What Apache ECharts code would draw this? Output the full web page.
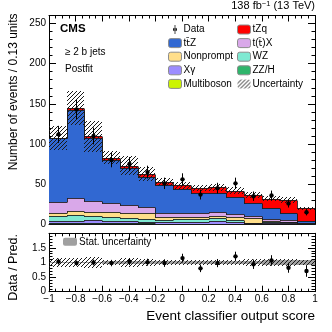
<!DOCTYPE html>
<html>
<head>
<meta charset="utf-8">
<script src="https://cdn.jsdelivr.net/npm/echarts@6/dist/echarts.min.js"></script>
<style>
html, body { margin: 0; padding: 0; background: #fff; }
#chart { width: 332px; height: 332px; }
</style>
</head>
<body>
<div id="chart"></div>
<script>
// bin edges of the classifier score
var binEdges = [-1, -0.8667, -0.7333, -0.6, -0.4667, -0.3333, -0.2, -0.0667, 0.0667, 0.2, 0.3333, 0.4667, 0.6, 0.7333, 0.8667, 1];

// postfit yields per bin (stacked bottom -> top)
var multiboson = [0.3, 0.3, 0.3, 0.3, 0.3, 0.3, 0.2, 0.2, 0.2, 0.2, 0.2, 0.1, 0.1, 0.1, 0.1];
var zzh        = [0.7, 0.7, 0.7, 0.7, 0.7, 0.7, 0.3, 0.3, 0.3, 0.3, 0.3, 0.2, 0.2, 0.2, 0.1];
var xgamma     = [2.5, 3, 4, 3, 3, 2, 2, 2, 2.5, 4, 2.5, 0.7, 1.2, 1.7, 0.3];
var wz         = [6.5, 7, 5.5, 5, 4, 3.5, 2.5, 3.5, 3.5, 3, 2, 0.5, 1, 0.5, 0.2];
var nonprompt  = [4.5, 5.5, 5.3, 6, 6.5, 7.2, 3.7, 2.7, 3, 2.9, 3.7, 6, 2.1, 0.8, 0.5];
var ttx        = [13, 16, 13.2, 11, 9, 7.8, 4.8, 5, 5.1, 5, 4.2, 2.9, 1.7, 2.1, 0.8];
var ttz        = [79.5, 109.5, 78, 53.5, 46.5, 38, 35, 30.3, 24.4, 23.6, 21.1, 15.6, 13.7, 8.6, 1.5];
var tzq        = [1, 2.5, 2.5, 3.5, 3, 3.5, 4.5, 4.7, 6, 7, 8, 10.6, 12, 16.4, 16.5];
var totalUnc   = [15, 21, 19, 8.5, 12, 8.5, 5, 4.5, 4, 4.5, 4, 4, 3.5, 3.3, 2];

// observed data
var dataObs = [112, 143, 110, 80, 75, 65, 51, 56, 37, 45, 51, 35, 36, 26, 15];
var dataErr = [10.6, 12, 10.5, 9, 8.7, 8, 7.1, 7.5, 6.1, 6.7, 7.1, 5.9, 6, 5.1, 3.9];

// ratio panel
var ratio    = [1.03, 0.98, 1.0, 0.98, 1.03, 1.01, 0.98, 1.15, 0.8, 0.98, 1.21, 0.94, 1.07, 0.82, 0.71];
var ratioErr = [0.1, 0.09, 0.1, 0.11, 0.12, 0.12, 0.13, 0.15, 0.13, 0.14, 0.16, 0.16, 0.18, 0.17, 0.2];
var statUnc  = [0.03, 0.03, 0.03, 0.04, 0.04, 0.04, 0.05, 0.05, 0.05, 0.05, 0.06, 0.06, 0.07, 0.07, 0.09];

var FONT = 'Liberation Sans, Arial, Helvetica, sans-serif';
var EDGE = 'rgba(25,25,25,0.85)';

var stackOrder = [
    {name: 'Multiboson', values: multiboson, color: '#ccf500'},
    {name: 'ZZ/H', values: zzh, color: '#2fb56b'},
    {name: 'X\u03b3', values: xgamma, color: '#9c8cff'},
    {name: 'WZ', values: wz, color: '#7fe9d2'},
    {name: 'Nonprompt', values: nonprompt, color: '#ffde8a'},
    {name: 't(t\u0304)X', values: ttx, color: '#d9a8e9'},
    {name: 'tt\u0304Z', values: ttz, color: '#3168d2'},
    {name: 'tZq', values: tzq, color: '#ff0000'}
];

// cumulative boundaries
var cum = [binEdges.slice(1).map(function () { return 0; })];
stackOrder.forEach(function (c, k) {
    cum.push(c.values.map(function (v, i) { return cum[k][i] + v; }));
});
var total = cum[cum.length - 1];

function centre(i) { return (binEdges[i] + binEdges[i + 1]) / 2; }

function hatchCanvas() {
    var c = document.createElement('canvas');
    c.width = 4; c.height = 4;
    var g = c.getContext('2d');
    g.strokeStyle = '#1a1a1a';
    g.lineWidth = 1;
    g.beginPath();
    g.moveTo(-1, 5); g.lineTo(5, -1);
    g.moveTo(-1, 1); g.lineTo(1, -1);
    g.moveTo(3, 5); g.lineTo(5, 3);
    g.stroke();
    return c;
}
var hatch = {image: hatchCanvas(), repeat: 'repeat'};

function box(api, x0, x1, y0, y1) {
    var a = api.coord([x0, y1]);
    var b = api.coord([x1, y0]);
    var l = Math.round(a[0]), r = Math.round(b[0]);
    var t = Math.round(a[1]), bt = Math.round(b[1]);
    return {x: l, y: t, width: r - l, height: bt - t};
}

function stackSeries(k) {
    var comp = stackOrder[k];
    return {
        type: 'custom',
        name: comp.name,
        xAxisIndex: 0, yAxisIndex: 0,
        z: 2,
        itemStyle: {color: comp.color},
        data: comp.values.map(function (v, i) { return [centre(i), v]; }),
        renderItem: function (params, api) {
            var i = params.dataIndex;
            var s = box(api, binEdges[i], binEdges[i + 1], cum[k][i], cum[k + 1][i]);
            var kids = [{type: 'rect', shape: s, style: {fill: comp.color}, z2: 0}];
            kids.push({type: 'line', z2: 5,
                shape: {x1: s.x, y1: s.y + 0.5, x2: s.x + s.width, y2: s.y + 0.5},
                style: {stroke: EDGE, lineWidth: 1}});
            if (i > 0) {
                var p = Math.round(api.coord([binEdges[i], cum[k + 1][i - 1]])[1]);
                kids.push({type: 'line', z2: 5,
                    shape: {x1: s.x + 0.5, y1: p + 0.5, x2: s.x + 0.5, y2: s.y + 0.5},
                    style: {stroke: EDGE, lineWidth: 1}});
            }
            return {type: 'group', children: kids};
        }
    };
}

var series = stackOrder.map(function (c, k) { return stackSeries(k); });

series.push({
    type: 'custom', name: 'Uncertainty', xAxisIndex: 0, yAxisIndex: 0, z: 3,
    itemStyle: {color: hatch},
    data: totalUnc.map(function (u, i) { return [centre(i), total[i]]; }),
    renderItem: function (params, api) {
        var i = params.dataIndex;
        var s = box(api, binEdges[i], binEdges[i + 1], total[i] - totalUnc[i], total[i] + totalUnc[i]);
        return {type: 'rect', shape: s, style: {fill: hatch}};
    }
});

function pointSeries(name, xi, yi, vals, errs, z) {
    return {
        type: 'custom', name: name, xAxisIndex: xi, yAxisIndex: yi, z: z,
        itemStyle: {color: '#000'},
        data: vals.map(function (v, i) { return [centre(i), v]; }),
        renderItem: function (params, api) {
            var i = params.dataIndex;
            var c = api.coord([centre(i), vals[i]]);
            var lo = api.coord([centre(i), vals[i] - errs[i]]);
            var hi = api.coord([centre(i), vals[i] + errs[i]]);
            var x = Math.round(c[0]) + 0.5;
            return {type: 'group', children: [
                {type: 'line', shape: {x1: x, y1: lo[1], x2: x, y2: hi[1]}, style: {stroke: '#000', lineWidth: 1}},
                {type: 'circle', shape: {cx: x, cy: c[1], r: 2.2}, style: {fill: '#000'}}
            ]};
        }
    };
}

series.push(pointSeries('Data', 0, 0, dataObs, dataErr, 4));

// ratio panel
series.push({
    type: 'custom', name: 'Stat. uncertainty', xAxisIndex: 2, yAxisIndex: 2, z: 2,
    itemStyle: {color: '#a0a0a0'},
    data: statUnc.map(function (u, i) { return [centre(i), 1]; }),
    renderItem: function (params, api) {
        var i = params.dataIndex;
        var s = box(api, binEdges[i], binEdges[i + 1], 1 - statUnc[i], 1 + statUnc[i]);
        return {type: 'rect', shape: s, style: {fill: '#a0a0a0'}};
    }
});
series.push({
    type: 'custom', name: 'ratioUnc', xAxisIndex: 2, yAxisIndex: 2, z: 3,
    data: totalUnc.map(function (u, i) { return [centre(i), 1]; }),
    renderItem: function (params, api) {
        var i = params.dataIndex;
        var rel = totalUnc[i] / total[i];
        var s = box(api, binEdges[i], binEdges[i + 1], 1 - rel, 1 + rel);
        return {type: 'rect', shape: s, style: {fill: hatch}};
    }
});
series.push(pointSeries('ratio', 2, 2, ratio, ratioErr, 4));

function xAxis(grid, pos, labels) {
    return {
        type: 'value', gridIndex: grid, position: pos, min: -1, max: 1, interval: 0.2,
        axisLine: {onZero: false, lineStyle: {color: '#000', width: 1}},
        axisTick: {inside: true, length: 6, lineStyle: {color: '#000'}},
        minorTick: {show: true, splitNumber: 4, length: 3, lineStyle: {color: '#000'}},
        splitLine: {show: false},
        axisLabel: {show: labels, color: '#000', fontSize: 10, fontFamily: FONT, margin: 3,
            formatter: function (v) { return String(Math.round(v * 10) / 10).replace('-', '\u2212'); }}
    };
}
function yAxis(grid, pos, max, step, labels) {
    return {
        type: 'value', gridIndex: grid, position: pos, min: 0, max: max, interval: step,
        axisLine: {show: true, onZero: false, lineStyle: {color: '#000', width: 1}},
        axisTick: {show: true, inside: true, length: 7, lineStyle: {color: '#000'}},
        minorTick: {show: true, splitNumber: 5, length: 3.5, lineStyle: {color: '#000'}},
        splitLine: {show: false},
        axisLabel: {show: labels, color: '#000', fontSize: 10, fontFamily: FONT, margin: 3,
            formatter: function (v) {
                var r = Math.round(v / step) * step;
                if (Math.abs(r - v) > 1e-6 || v >= max - 1e-6) return '';
                return String(r);
            }}
    };
}

// put the anti-top bar in a font that draws the combining macron
function legendLabel(name) {
    return name.replace('t\u0304', '{bar|t\u0304}');
}

var legendBase = {
    orient: 'vertical', itemWidth: 13, itemHeight: 9, itemGap: 3.6, selectedMode: false,
    padding: 0,
    formatter: legendLabel,
    itemStyle: {borderColor: '#8c8c8c', borderWidth: 1},
    textStyle: {color: '#000', fontSize: 10, fontFamily: FONT, padding: [0, 0, 0, -3],
        rich: {bar: {fontFamily: 'DejaVu Sans', fontSize: 9.5, color: '#000'}}}
};
var dataIcon = 'path://M4.6,0H5.4V10H4.6Z M5,2.8A2.2,2.2 0 1,0 5,7.2A2.2,2.2 0 1,0 5,2.8Z';

var chart = echarts.init(document.getElementById('chart'), null, {renderer: 'canvas'});
chart.setOption({
    animation: false,
    backgroundColor: '#fff',
    grid: [
        {left: 49, right: 17, top: 15.5, height: 208.8, outerBoundsMode: 'none'},
        {left: 49, right: 17, top: 233.3, height: 58.4, outerBoundsMode: 'none'}
    ],
    xAxis: [xAxis(0, 'bottom', false), xAxis(0, 'top', false), xAxis(1, 'bottom', true), xAxis(1, 'top', false)],
    yAxis: [yAxis(0, 'left', 260, 50, true), yAxis(0, 'right', 260, 50, false),
            yAxis(1, 'left', 2, 0.5, true), yAxis(1, 'right', 2, 0.5, false)],
    legend: [
        Object.assign({}, legendBase, {left: 168, top: 24.5,
            data: [{name: 'Data', icon: dataIcon, itemStyle: {borderWidth: 0, color: '#000'}},
                   'tt\u0304Z', 'Nonprompt', 'X\u03b3', 'Multiboson']}),
        Object.assign({}, legendBase, {left: 237, top: 24.5,
            data: ['tZq', 't(t\u0304)X', 'WZ', 'ZZ/H', {name: 'Uncertainty', itemStyle: {borderWidth: 0}}]}),
        Object.assign({}, legendBase, {left: 63, top: 236.8, itemWidth: 14, itemHeight: 8,
            data: [{name: 'Stat. uncertainty', itemStyle: {borderWidth: 0}}]})
    ],
    graphic: [
        {type: 'text', right: 17, top: 0, style: {text: '138 fb{s|\u22121} (13 TeV)', fill: '#000',
            font: '11px ' + FONT, rich: {s: {fontSize: 7.5, fontFamily: FONT, verticalAlign: 'top', fill: '#000'}}}},
        {type: 'text', left: 60, top: 23, style: {text: 'CMS', fill: '#000', font: 'bold 11.5px ' + FONT}},
        {type: 'text', left: 65, top: 47.5, style: {text: '\u2265 2 b jets', fill: '#000', font: '10px ' + FONT}},
        {type: 'text', left: 65, top: 64, style: {text: 'Postfit', fill: '#000', font: '10px ' + FONT}},
        {type: 'text', x: 14, y: 13.5, rotation: Math.PI / 2,
            style: {text: 'Number of events / 0.13 units', fill: '#000', font: '12px ' + FONT,
                align: 'right', verticalAlign: 'middle'}},
        {type: 'text', x: 14, y: 234, rotation: Math.PI / 2,
            style: {text: 'Data / Pred.', fill: '#000', font: '12.5px ' + FONT,
                align: 'right', verticalAlign: 'middle'}},
        {type: 'text', right: 17, top: 309, style: {text: 'Event classifier output score', fill: '#000',
            font: '13.5px ' + FONT}}
    ],
    series: series
});
</script>
</body>
</html>
